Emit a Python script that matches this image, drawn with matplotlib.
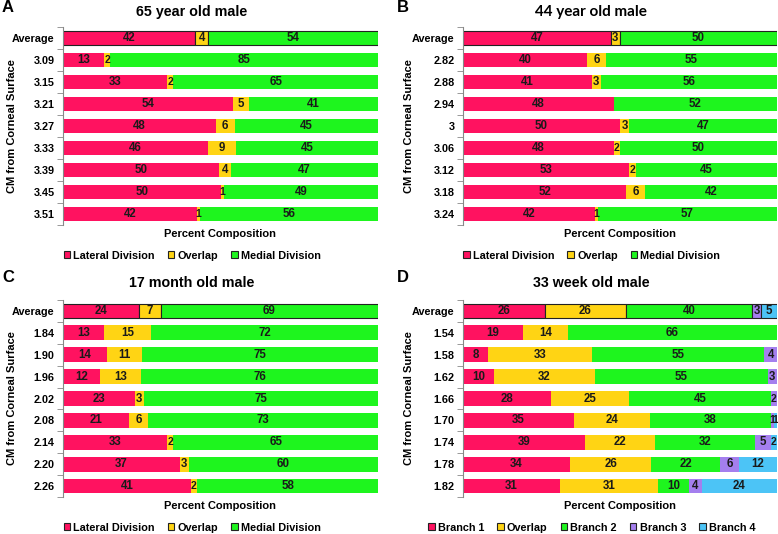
import matplotlib
matplotlib.use("Agg")
import matplotlib.pyplot as plt
import numpy as np

plt.rcParams['font.family'] = ['Liberation Sans', 'DejaVu Sans']
plt.rcParams['font.weight'] = 'bold'

RED = '#FF1260'
YEL = '#FFD414'
GRN = '#1EF51E'
PUR = '#A47FEE'
BLU = '#4CC4F6'

# panel A - 65 year old male
rows_a = ['Average', '3.09', '3.15', '3.21', '3.27', '3.33', '3.39', '3.45', '3.51']
lateral_a = [42, 13, 33, 54, 48, 46, 50, 50, 42]
overlap_a = [4, 2, 2, 5, 6, 9, 4, 1, 1]
medial_a = [54, 85, 65, 41, 45, 45, 47, 49, 56]

# panel B - 44 year old male
rows_b = ['Average', '2.82', '2.88', '2.94', '3', '3.06', '3.12', '3.18', '3.24']
lateral_b = [47, 40, 41, 48, 50, 48, 53, 52, 42]
overlap_b = [3, 6, 3, 0, 3, 2, 2, 6, 1]
medial_b = [50, 55, 56, 52, 47, 50, 45, 42, 57]

# panel C - 17 month old male
rows_c = ['Average', '1.84', '1.90', '1.96', '2.02', '2.08', '2.14', '2.20', '2.26']
lateral_c = [24, 13, 14, 12, 23, 21, 33, 37, 41]
overlap_c = [7, 15, 11, 13, 3, 6, 2, 3, 2]
medial_c = [69, 72, 75, 76, 75, 73, 65, 60, 58]

# panel D - 33 week old male
rows_d = ['Average', '1.54', '1.58', '1.62', '1.66', '1.70', '1.74', '1.78', '1.82']
branch1_d = [26, 19, 8, 10, 28, 35, 39, 34, 31]
overlap_d = [26, 14, 33, 32, 25, 24, 22, 26, 31]
branch2_d = [40, 66, 55, 55, 45, 38, 32, 22, 10]
branch3_d = [3, 0, 4, 3, 2, 1, 5, 6, 4]
branch4_d = [5, 0, 0, 0, 0, 1, 2, 12, 24]

W, H = 778, 534
fig = plt.figure(figsize=(W / 100, H / 100), dpi=100)


def px_axes(x0, x1, y0, y1):
    return fig.add_axes([x0 / W, 1 - y1 / H, (x1 - x0) / W, (y1 - y0) / H])


def panel(ax, rows, series, labels, colors, leg_x, ylab_x):
    vals = np.array(series, dtype=float)
    pct = vals / vals.sum(axis=0) * 100
    y = np.arange(len(rows))
    left = np.zeros(len(rows))
    for s in range(len(series)):
        for i in range(len(rows)):
            avg = i == 0
            ax.barh(y[i], pct[s, i], left=left[i], height=0.68, color=colors[s],
                    edgecolor='#222222' if avg else 'none', linewidth=0.8 if avg else 0,
                    label=labels[s] if i == 0 else None)
            if vals[s, i] > 0:
                fs = 7.5 if pct[s, i] < 2.5 else 8.3
                ax.text(left[i] + pct[s, i] / 2, y[i], '%d' % vals[s, i],
                        ha='center', va='center', fontsize=fs,
                        fontweight='bold', color='#1a1a1a')
        left += pct[s]
    ax.set_xlim(0, 100)
    ax.set_ylim(len(rows) - 0.5, -0.5)
    ax.set_yticks(y)
    ax.set_yticklabels(rows, fontsize=7.8, fontweight='bold')
    ax.set_yticks(np.arange(len(rows) + 1) - 0.5, minor=True)
    ax.tick_params(axis='y', which='major', length=0, pad=6)
    ax.tick_params(axis='y', which='minor', length=4, color='#888888', direction='out')
    ax.set_xticks([])
    for sp in ['top', 'right', 'bottom']:
        ax.spines[sp].set_visible(False)
    ax.spines['left'].set_color('#888888')
    ax.spines['left'].set_linewidth(0.8)
    ax.set_xlabel('Percent Composition', fontsize=8, fontweight='bold', labelpad=3)
    ax.set_ylabel('CM from Corneal Surface', fontsize=8, fontweight='bold')
    ax.yaxis.set_label_coords(ylab_x, 0.5)
    ax.legend(loc='center', bbox_to_anchor=(leg_x, -0.155), ncol=len(series),
              frameon=False, handlelength=0.6, handleheight=0.6,
              handletextpad=0.3, columnspacing=1.2, borderaxespad=0,
              prop={'weight': 'bold', 'size': 7.8})


ax_a = px_axes(63, 378, 27, 225)
panel(ax_a, rows_a, [lateral_a, overlap_a, medial_a],
      ['Lateral Division', 'Overlap', 'Medial Division'], [RED, YEL, GRN], 0.41, -0.145)

ax_b = px_axes(463, 777, 27, 225)
panel(ax_b, rows_b, [lateral_b, overlap_b, medial_b],
      ['Lateral Division', 'Overlap', 'Medial Division'], [RED, YEL, GRN], 0.41, -0.155)

ax_c = px_axes(63, 378, 300, 497)
panel(ax_c, rows_c, [lateral_c, overlap_c, medial_c],
      ['Lateral Division', 'Overlap', 'Medial Division'], [RED, YEL, GRN], 0.41, -0.145)

ax_d = px_axes(463, 777, 300, 497)
panel(ax_d, rows_d, [branch1_d, overlap_d, branch2_d, branch3_d, branch4_d],
      ['Branch 1', 'Overlap', 'Branch 2', 'Branch 3', 'Branch 4'],
      [RED, YEL, GRN, PUR, BLU], 0.41, -0.155)

# titles and panel letters
fig.text(192 / W, 1 - 12 / H, '65 year old male', ha='center', va='center', fontsize=10.3, fontweight='bold')
fig.text(591 / W, 1 - 12 / H, '44 year old male', ha='center', va='center', fontsize=11,
         fontweight='bold', family=['Lato', 'DejaVu Sans'])
fig.text(192 / W, 1 - 283 / H, '17 month old male', ha='center', va='center', fontsize=10.3, fontweight='bold')
fig.text(591 / W, 1 - 283 / H, '33 week old male', ha='center', va='center', fontsize=10.3, fontweight='bold')

for lx, ly, letter in [(2, 7, 'A'), (397, 7, 'B'), (2, 278, 'C'), (397, 278, 'D')]:
    fig.text(lx / W, 1 - ly / H, letter, ha='left', va='center', fontsize=12, fontweight='bold')

fig.savefig('out.png', dpi=100)
